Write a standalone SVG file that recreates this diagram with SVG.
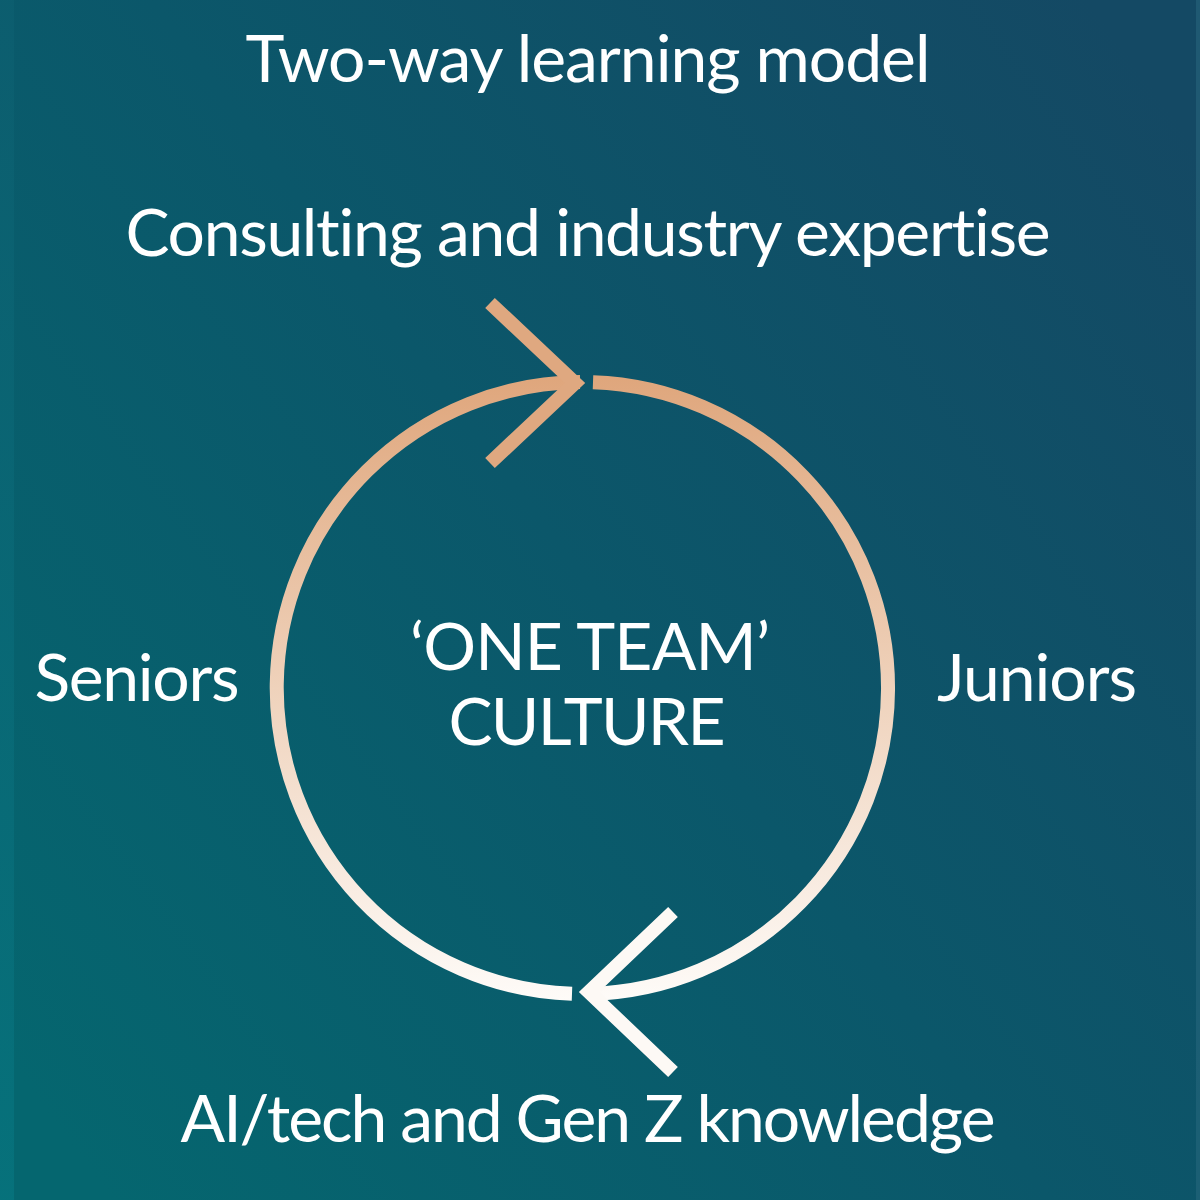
<svg xmlns="http://www.w3.org/2000/svg" width="1200" height="1200" viewBox="0 0 1200 1200">
  <defs>
    <linearGradient id="bg" gradientUnits="userSpaceOnUse" x1="0" y1="1050" x2="1200" y2="150">
      <stop offset="0" stop-color="#05666f"/>
      <stop offset="0.5" stop-color="#0b576a"/>
      <stop offset="1" stop-color="#144964"/>
    </linearGradient>
    <linearGradient id="ring" gradientUnits="userSpaceOnUse" x1="0" y1="376" x2="0" y2="1000">
      <stop offset="0" stop-color="#dfa67c"/>
      <stop offset="0.5" stop-color="#efd2bb"/>
      <stop offset="1" stop-color="#fefbf8"/>
    </linearGradient>
    <linearGradient id="edge" x1="0" y1="0" x2="0" y2="1">
      <stop offset="0" stop-color="#0d5f70"/>
      <stop offset="1" stop-color="#077680"/>
    </linearGradient>
  </defs>
  <style>
    text { font-family: Lato, "Open Sans", "Liberation Sans", sans-serif; fill: #ffffff; text-anchor: middle; font-variant-ligatures: none; }
    .lbl { font-size: 66px; }
    .ring { fill: none; stroke: url(#ring); stroke-width: 14; }
    .chev { fill: none; stroke-width: 14; stroke-linecap: butt; stroke-linejoin: miter; }
  </style>
  <rect width="1200" height="1200" fill="url(#bg)"/>
  <rect x="0" y="0" width="14" height="1200" fill="url(#edge)" opacity="0.7"/>
  <rect x="1196" y="0" width="4" height="1200" fill="#2a6a80" opacity="0.5"/>

  <g id="title"><text class="lbl" x="588" y="82" textLength="685" lengthAdjust="spacing">Two-way learning model</text></g>

  <g id="connectors">
    <path class="ring" d="M593,382.2 A306,306 0 0 1 590,993.9"/>
    <path class="ring" d="M572,993.8 A306,306 0 0 1 580,382"/>
    <polyline class="chev" stroke="#dfa880" points="490,303 575,383 490,463"/>
    <polyline class="chev" stroke="#fdf9f5" points="673,912 589,992 673,1072"/>
  </g>

  <g id="top-label"><text class="lbl" x="588" y="256" textLength="925" lengthAdjust="spacing">Consulting and industry expertise</text></g>
  <g id="seniors"><text class="lbl" x="137" y="701" textLength="205" lengthAdjust="spacing">Seniors</text></g>
  <g id="juniors"><text class="lbl" x="1037" y="701" textLength="200" lengthAdjust="spacing">Juniors</text></g>
  <g id="center">
    <text class="lbl" x="590" y="670" textLength="360" lengthAdjust="spacing">‘ONE TEAM’</text>
    <text class="lbl" x="587" y="745" textLength="277" lengthAdjust="spacing">CULTURE</text>
  </g>
  <g id="bottom-label"><text class="lbl" x="588" y="1142" textLength="815" lengthAdjust="spacing">AI/tech and Gen Z knowledge</text></g>
</svg>
